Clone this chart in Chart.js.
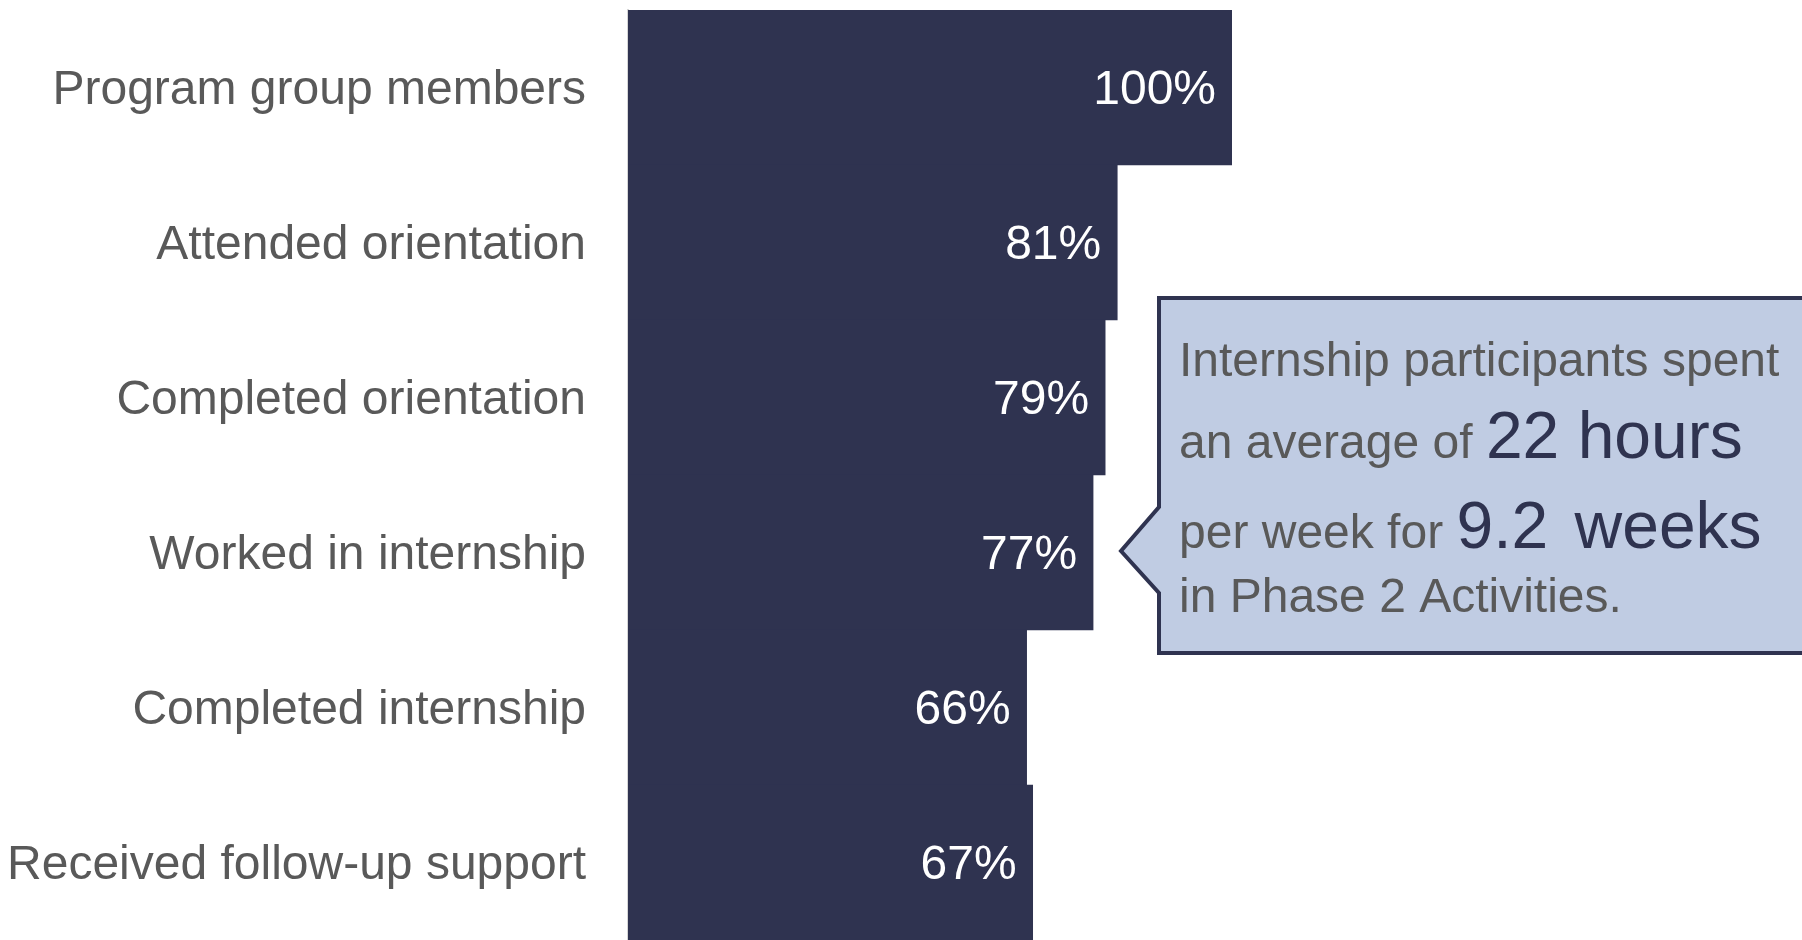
<!DOCTYPE html>
<html>
<head>
<meta charset="utf-8">
<script src="https://cdn.jsdelivr.net/npm/chart.js@4/dist/chart.umd.min.js"></script>
<style>
  html, body { margin: 0; padding: 0; background: #fff; }
  #wrap { position: relative; width: 1802px; height: 940px; }
</style>
</head>
<body>
<div id="wrap"><canvas id="funnel-chart"></canvas></div>
<script>
// ============================================
// DATA
// ============================================

const categories = [
  'Program group members',
  'Attended orientation',
  'Completed orientation',
  'Worked in internship',
  'Completed internship',
  'Received follow-up support'
];

const shares = [100, 81, 79, 77, 66, 67];

// callout text, line by line; "big" parts are the highlighted numbers
const calloutLines = [
  [{ text: 'Internship participants spent', big: false }],
  [{ text: 'an average of ', big: false }, { text: '22', big: true }, { text: ' hours', big: true }],
  [{ text: 'per week for ', big: false }, { text: '9.2', big: true }, { text: ' weeks', big: true, gap: 8 }],
  [{ text: 'in Phase 2 Activities.', big: false }]
];

const FONT = "'Liberation Sans', Arial, sans-serif";
const NAVY = '#2f3350';
const GREY_TEXT = '#595959';

// ============================================
// PLUGINS
// ============================================

const valueLabels = {
  id: 'valueLabels',
  afterDatasetsDraw(chart) {
    const { ctx } = chart;
    const meta = chart.getDatasetMeta(0);
    ctx.save();
    ctx.fillStyle = '#ffffff';
    ctx.font = '48px ' + FONT;
    ctx.textAlign = 'right';
    ctx.textBaseline = 'middle';
    meta.data.forEach((bar, i) => {
      ctx.fillText(shares[i] + '%', bar.x - 16, bar.y + 3);
    });
    ctx.restore();
  }
};

const callout = {
  id: 'callout',
  afterDraw(chart) {
    const { ctx } = chart;
    const left = 1159, top = 298, bottom = 653, right = 1812;
    ctx.save();
    ctx.beginPath();
    ctx.moveTo(left, top);
    ctx.lineTo(right, top);
    ctx.lineTo(right, bottom);
    ctx.lineTo(left, bottom);
    ctx.lineTo(left, 593);
    ctx.lineTo(1121, 551);
    ctx.lineTo(left, 507);
    ctx.closePath();
    ctx.fillStyle = '#c0cce3';
    ctx.fill();
    ctx.lineWidth = 4;
    ctx.lineJoin = 'miter';
    ctx.strokeStyle = NAVY;
    ctx.stroke();

    const baselines = [376, 458, 548, 612];
    ctx.textBaseline = 'alphabetic';
    ctx.textAlign = 'left';
    calloutLines.forEach((parts, li) => {
      let x = 1179;
      parts.forEach(p => {
        x += p.gap || 0;
        ctx.font = (p.big ? '66px ' : '48px ') + FONT;
        ctx.fillStyle = p.big ? NAVY : GREY_TEXT;
        ctx.fillText(p.text, x, baselines[li]);
        x += ctx.measureText(p.text).width;
      });
    });
    ctx.restore();
  }
};

// ============================================
// CHART
// ============================================

function initChart() {
  const ctx = document.getElementById('funnel-chart');

  new Chart(ctx, {
    type: 'bar',
    data: {
      labels: categories,
      datasets: [{
        label: 'Share',
        data: shares,
        backgroundColor: NAVY,
        borderWidth: 0,
        categoryPercentage: 1.0,
        barPercentage: 1.0
      }]
    },
    options: {
      indexAxis: 'y',
      responsive: true,
      maintainAspectRatio: false,
      animation: false,
      layout: { padding: { top: 10, right: 570, bottom: 0, left: 0 } },
      plugins: {
        legend: { display: false },
        tooltip: { enabled: false }
      },
      scales: {
        x: {
          min: 0,
          max: 100,
          display: false
        },
        y: {
          afterFit(scale) {
            scale.width = 628;
            scale.paddingTop = 0;
            scale.paddingBottom = 0;
          },
          grid: { display: false, drawTicks: false },
          border: { display: true, color: '#d6d6d6', width: 2 },
          ticks: {
            autoSkip: false,
            padding: 42,
            labelOffset: 3,
            color: GREY_TEXT,
            font: { family: FONT, size: 48 }
          }
        }
      }
    },
    plugins: [valueLabels, callout]
  });
}

initChart();
</script>
</body>
</html>
